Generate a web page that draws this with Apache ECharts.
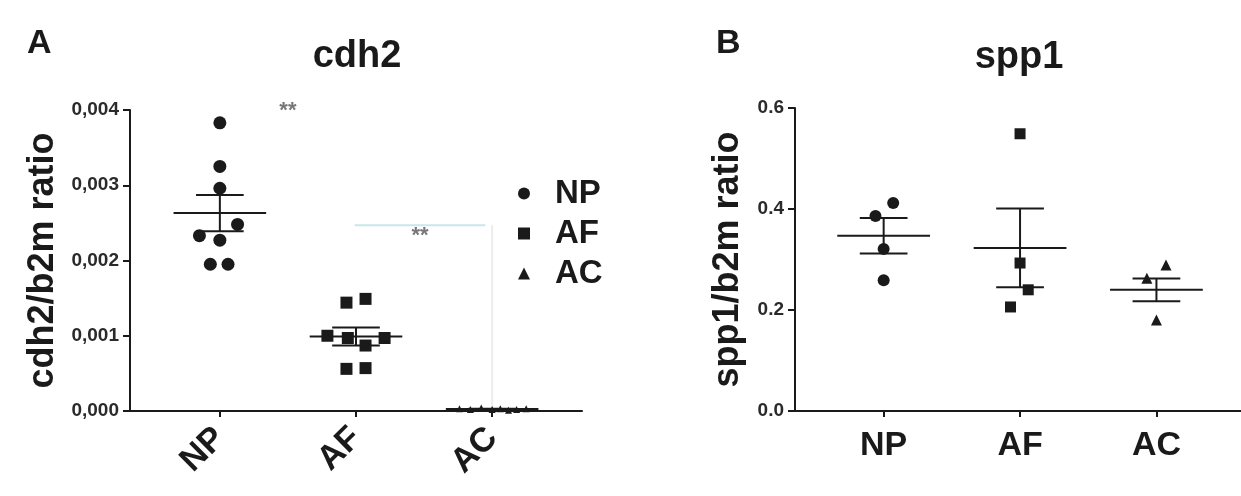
<!DOCTYPE html>
<html><head><meta charset="utf-8">
<script src="https://cdn.jsdelivr.net/npm/echarts@6/dist/echarts.min.js"></script>
<style>html,body{margin:0;padding:0;background:#fff}#c{width:1241px;height:496px}</style>
</head><body><div id="c"></div>
<script>
const categories = ['NP', 'AF', 'AC'];

// Panel A: cdh2
const cdh2NP = [0.00383, 0.00325, 0.00296, 0.00248, 0.00233, 0.00227, 0.00195, 0.00195];
const cdh2NPJitter = [0, 0, 0, 0.13, -0.15, 0, -0.07, 0.06];
const cdh2AF = [0.00144, 0.00149, 0.00100, 0.00097, 0.00087, 0.00097, 0.00056, 0.00057];
const cdh2AFJitter = [-0.07, 0.07, -0.21, -0.06, 0.07, 0.21, -0.07, 0.07];
const cdh2AC = [0.00003, 0.00002, 0.00004, 0.00002, 0.00003, 0.00001, 0.00002, 0.00003];
const cdh2ACJitter = [-0.24, -0.16, -0.08, 0, 0.06, 0.12, 0.18, 0.25];
const cdh2Mean = [0.00263, 0.00099, 0.000025];
const cdh2Sem = [0.00024, 0.00012, 0.000005];
const cdh2Ticks = ['0,000', '0,001', '0,002', '0,003', '0,004'];
const cdh2Stars = [[0.5, 0.00399, '**'], [1.47, 0.00232, '**']];
const cdh2Bracket = [[0.99, 0.00247], [1.95, 0.00247]];
const cdh2BracketDrop = [[2, 0.00247], [2, 0]];

// Panel B: spp1
const spp1NP = [0.412, 0.386, 0.321, 0.259];
const spp1NPJitter = [0.07, -0.06, 0, 0];
const spp1AF = [0.549, 0.293, 0.240, 0.206];
const spp1AFJitter = [0, 0, 0.06, -0.07];
const spp1AC = [0.289, 0.263, 0.180];
const spp1ACJitter = [0.07, -0.07, 0];
const spp1Mean = [0.347, 0.323, 0.240];
const spp1Sem = [0.035, 0.078, 0.0225];
const spp1Ticks = ['0.0', '0.2', '0.4', '0.6'];

const FONT = "'Liberation Sans', Arial, sans-serif";
const INK = '#1a1a1a';

function pts(vals, jit, catIdx) {
  return vals.map((v, i) => [catIdx + jit[i], v]);
}
function scatter(name, data, symbol, size, xi, yi) {
  return { type: 'scatter', name, data, symbol, symbolSize: size, xAxisIndex: xi, yAxisIndex: yi,
    itemStyle: { color: INK, opacity: 1 }, z: 4, silent: true };
}
function meanSem(name, means, sems, xi, yi) {
  return {
    type: 'custom', name, xAxisIndex: xi, yAxisIndex: yi, silent: true, z: 3,
    data: means.map((m, i) => [i, m, sems[i]]),
    encode: { x: 0, y: 1 },
    renderItem(params, api) {
      const x = api.value(0), m = api.value(1), s = api.value(2);
      const st = { stroke: INK, lineWidth: 2 };
      const a = api.coord([x - 0.34, m]), b = api.coord([x + 0.34, m]);
      const t = api.coord([x, m + s]), d = api.coord([x, m - s]);
      const tl = api.coord([x - 0.175, m + s]), tr = api.coord([x + 0.175, m + s]);
      const bl = api.coord([x - 0.175, m - s]), br = api.coord([x + 0.175, m - s]);
      return { type: 'group', children: [
        { type: 'line', shape: { x1: a[0], y1: a[1], x2: b[0], y2: b[1] }, style: st },
        { type: 'line', shape: { x1: t[0], y1: t[1], x2: d[0], y2: d[1] }, style: st },
        { type: 'line', shape: { x1: tl[0], y1: tl[1], x2: tr[0], y2: tr[1] }, style: st },
        { type: 'line', shape: { x1: bl[0], y1: bl[1], x2: br[0], y2: br[1] }, style: st }
      ] };
    }
  };
}
function xAxis(gi, min, max, rotate, margin) {
  return {
    gridIndex: gi, type: 'value', min, max,
    axisLine: { onZero: false, lineStyle: { color: INK, width: 2 } },
    splitLine: { show: false },
    axisTick: { customValues: [0, 1, 2], length: 6, lineStyle: { color: INK, width: 2 } },
    axisLabel: { customValues: [0, 1, 2], formatter: v => categories[Math.round(v)], rotate,
      fontSize: 34, fontWeight: 'bold', color: INK, fontFamily: FONT, margin }
  };
}
function yAxis(gi, max, interval, ticks, name, gap) {
  return {
    gridIndex: gi, type: 'value', min: 0, max, interval,
    name, nameLocation: 'middle', nameGap: gap,
    nameTextStyle: { fontSize: 36, fontWeight: 'bold', color: INK, fontFamily: FONT },
    axisLine: { show: true, onZero: false, lineStyle: { color: INK, width: 2 } },
    splitLine: { show: false },
    axisTick: { show: true, length: 7, lineStyle: { color: INK, width: 2 } },
    axisLabel: { formatter: v => ticks[Math.round(v / interval)], fontSize: 19, fontWeight: 'bold',
      color: '#2a2a2a', fontFamily: FONT, margin: 11 }
  };
}

const chart = echarts.init(document.getElementById('c'), null, { renderer: 'canvas' });
chart.setOption({
  backgroundColor: '#ffffff',
  animation: false,
  textStyle: { fontFamily: FONT },
  grid: [
    { left: 130, top: 110, width: 452, height: 301 },
    { left: 795, top: 108, width: 446, height: 303 }
  ],
  xAxis: [xAxis(0, -0.66, 2.66, 45, 22), xAxis(1, -0.65, 2.62, 0, 18)],
  yAxis: [
    yAxis(0, 0.004, 0.001, cdh2Ticks, 'cdh2/b2m ratio', 69),
    yAxis(1, 0.6, 0.2, spp1Ticks, 'spp1/b2m ratio', 49)
  ],
  legend: {
    data: [{ name: 'NP', icon: 'circle' }, { name: 'AF', icon: 'rect' }, { name: 'AC', icon: 'triangle' }],
    orient: 'vertical', left: 513, top: 172, itemWidth: 12, itemHeight: 12, itemGap: 7,
    selectedMode: false,
    textStyle: { fontSize: 33, fontWeight: 'bold', color: INK, fontFamily: FONT, padding: [0, 0, 0, 20] }
  },
  graphic: [
    { type: 'text', left: 27, top: 27, style: { text: 'A', font: "bold 34px " + FONT, fill: INK } },
    { type: 'text', x: 357, y: 57, style: { text: 'cdh2', font: "bold 38px " + FONT, fill: INK, textAlign: 'center', textVerticalAlign: 'middle' } },
    { type: 'text', left: 716, top: 27, style: { text: 'B', font: "bold 34px " + FONT, fill: INK } },
    { type: 'text', x: 1019, y: 58, style: { text: 'spp1', font: "bold 38px " + FONT, fill: INK, textAlign: 'center', textVerticalAlign: 'middle' } }
  ],
  series: [
    { type: 'line', xAxisIndex: 0, yAxisIndex: 0, data: cdh2Bracket, symbol: 'none', silent: true,
      lineStyle: { color: '#c8e6ec', width: 2 }, z: 1 },
    { type: 'line', xAxisIndex: 0, yAxisIndex: 0, data: cdh2BracketDrop, symbol: 'none', silent: true,
      lineStyle: { color: '#ececec', width: 2 }, z: 1 },
    { type: 'scatter', xAxisIndex: 0, yAxisIndex: 0, data: cdh2Stars, symbolSize: 0, silent: true,
      label: { show: true, formatter: p => p.value[2], color: '#555', fontSize: 22, fontWeight: 'bold', position: 'inside', fontFamily: FONT } },
    scatter('NP', pts(cdh2NP, cdh2NPJitter, 0), 'circle', 13, 0, 0),
    scatter('AF', pts(cdh2AF, cdh2AFJitter, 1), 'rect', 12, 0, 0),
    scatter('AC', pts(cdh2AC, cdh2ACJitter, 2), 'triangle', 7, 0, 0),
    meanSem('cdh2 mean', cdh2Mean, cdh2Sem, 0, 0),
    scatter('spp1 NP', pts(spp1NP, spp1NPJitter, 0), 'circle', 12, 1, 1),
    scatter('spp1 AF', pts(spp1AF, spp1AFJitter, 1), 'rect', 11, 1, 1),
    scatter('spp1 AC', pts(spp1AC, spp1ACJitter, 2), 'triangle', 11, 1, 1),
    meanSem('spp1 mean', spp1Mean, spp1Sem, 1, 1)
  ]
});
</script>
</body></html>
